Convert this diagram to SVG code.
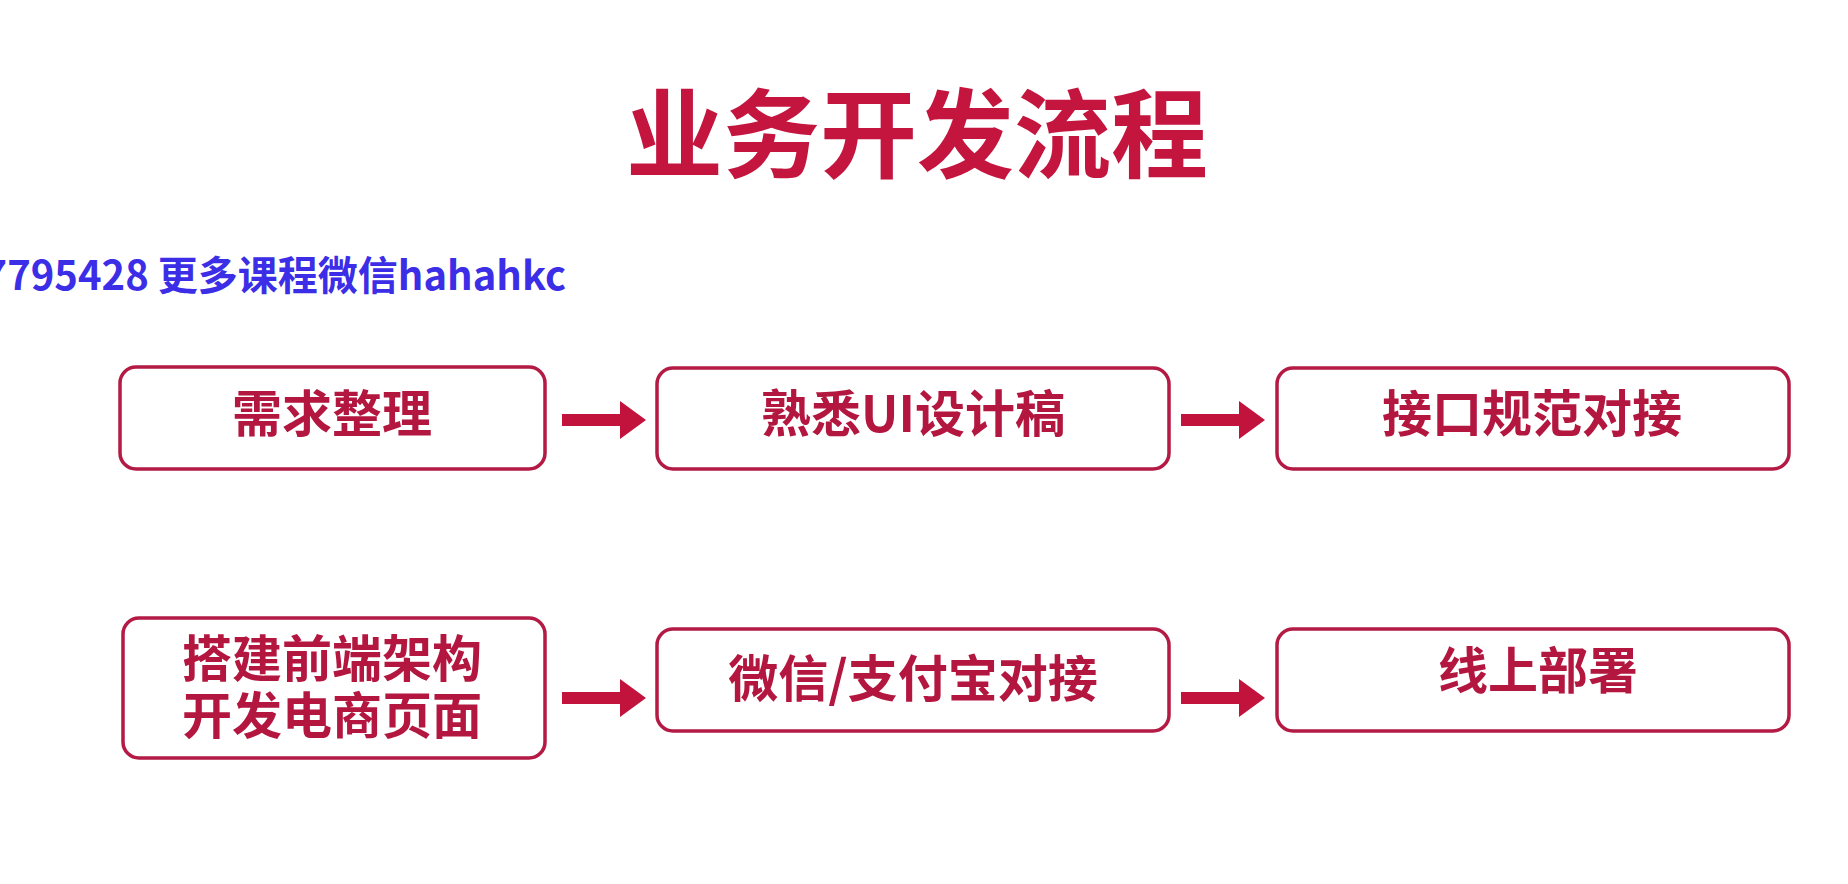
<svg xmlns="http://www.w3.org/2000/svg" width="1848" height="884" viewBox="0 0 1848 884">
<style>
.node rect{fill:#fff;stroke:#b31a44;stroke-width:3.5}
.lbl{font-family:"Noto Sans CJK SC","Noto Sans",sans-serif;font-weight:bold;font-size:50px;fill:#b3173f;text-anchor:middle;dominant-baseline:central}
.tight{font-family:"Liberation Sans","Noto Sans CJK SC",sans-serif}
.title{font-family:"Noto Sans CJK SC","Noto Sans",sans-serif;font-weight:bold;font-size:97px;fill:#c4153f;text-anchor:middle}
.wm{font-family:"Noto Sans CJK SC","Noto Sans",sans-serif;font-weight:bold;font-size:40px;fill:#3b2ee6;text-anchor:end}
.arr{fill:#c2133d}
</style>
<rect width="1848" height="884" fill="#fff"/>
<text class="title" x="917" y="170">业务开发流程</text>
<text class="wm" x="566" y="290">7795428 更多课程微信hahahkc</text>
<g id="n1" class="node"><rect x="120" y="367" width="425" height="102" rx="16"/><text class="lbl" x="332" y="410">需求整理</text></g>
<g id="n2" class="node"><rect x="657" y="368" width="512" height="101" rx="16"/><text class="lbl" x="913" y="410">熟悉UI设计稿</text></g>
<g id="n3" class="node"><rect x="1277" y="368" width="512" height="101" rx="16"/><text class="lbl" x="1532" y="410">接口规范对接</text></g>
<g id="n4" class="node"><rect x="123" y="618" width="422" height="140" rx="16"/><text class="lbl tight" x="332" y="660">搭建前端架构</text><text class="lbl tight" x="332" y="717">开发电商页面</text></g>
<g id="n5" class="node"><rect x="657" y="629" width="512" height="102" rx="16"/><text class="lbl" x="913" y="675">微信/支付宝对接</text></g>
<g id="n6" class="node"><rect x="1277" y="629" width="512" height="102" rx="16"/><text class="lbl" x="1538" y="667">线上部署</text></g>
<g id="connectors">
<polygon class="arr" points="562,414 620,414 620,401 646,420 620,439 620,426 562,426"/>
<polygon class="arr" points="1181,414 1239,414 1239,401 1265,420 1239,439 1239,426 1181,426"/>
<polygon class="arr" points="562,692 620,692 620,679 646,698 620,717 620,704 562,704"/>
<polygon class="arr" points="1181,692 1239,692 1239,679 1265,698 1239,717 1239,704 1181,704"/>
</g>
</svg>
